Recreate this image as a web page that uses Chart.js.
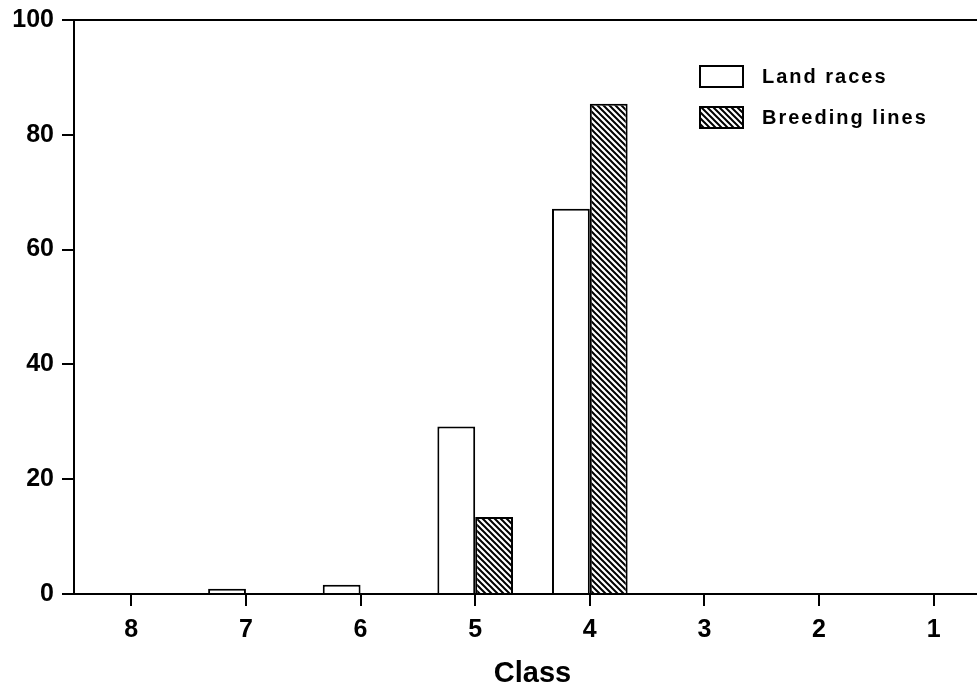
<!DOCTYPE html>
<html>
<head>
<meta charset="utf-8">
<script src="https://cdn.jsdelivr.net/npm/chart.js@4.4.1/dist/chart.umd.min.js"></script>
<style>
html,body{margin:0;padding:0;background:#fff;overflow:hidden;}
#wrap{width:977px;height:686px;overflow:hidden;position:relative;}
canvas{display:block;}
</style>
</head>
<body>
<div id="wrap"><canvas id="c" width="1000" height="686"></canvas></div>
<script>
// Data
const categories = ['8', '7', '6', '5', '4', '3', '2', '1'];
const landRaces = [0, 0.9, 1.6, 29.2, 67.1, 0, 0, 0];
const breedingLines = [0, 0, 0, 13.4, 85.4, 0, 0, 0];
const seriesNames = ['Land races', 'Breeding lines'];
const yTicks = [0, 20, 40, 60, 80, 100];
const xTitle = 'Class';

function hatch() {
  const s = 6;
  const p = document.createElement('canvas');
  p.width = s; p.height = s;
  const g = p.getContext('2d');
  g.fillStyle = '#fff';
  g.fillRect(0, 0, s, s);
  g.strokeStyle = '#000';
  g.lineWidth = 2;
  g.beginPath();
  g.moveTo(0, 0); g.lineTo(s, s);
  g.moveTo(-s, 0); g.lineTo(s, 2 * s);
  g.moveTo(0, -s); g.lineTo(2 * s, s);
  g.stroke();
  return g.createPattern(p, 'repeat');
}
const hatchFill = hatch();

const FONT = '"Liberation Sans", Arial, sans-serif';

const legendPlugin = {
  id: 'boxLegend',
  afterDraw(chart) {
    const ctx = chart.ctx;
    const x0 = 700, y0 = 66, bw = 43, bh = 21, gap = 41;
    ctx.save();
    chart.data.datasets.forEach((ds, i) => {
      const y = y0 + i * gap;
      ctx.fillStyle = ds.backgroundColor;
      ctx.fillRect(x0, y, bw, bh);
      ctx.strokeStyle = '#000';
      ctx.lineWidth = 2;
      ctx.strokeRect(x0, y, bw, bh);
      ctx.fillStyle = '#000';
      ctx.font = 'bold 20px ' + FONT;
      try { ctx.letterSpacing = '2px'; } catch (e) {}
      ctx.textBaseline = 'middle';
      ctx.textAlign = 'left';
      ctx.fillText(ds.label, x0 + 62, y + bh / 2 + 1);
    });
    ctx.restore();
  }
};

new Chart(document.getElementById('c'), {
  type: 'bar',
  data: {
    labels: categories,
    datasets: [
      { label: seriesNames[0], data: landRaces, backgroundColor: '#ffffff', borderColor: '#000', borderWidth: 2 },
      { label: seriesNames[1], data: breedingLines, backgroundColor: hatchFill, borderColor: '#000', borderWidth: 2 }
    ]
  },
  options: {
    responsive: false,
    animation: false,
    layout: { padding: { top: 20, right: 9, left: 0, bottom: 0 } },
    datasets: { bar: { categoryPercentage: 0.66, barPercentage: 1.0 } },
    plugins: { legend: { display: false }, tooltip: { enabled: false } },
    scales: {
      x: {
        grid: { offset: false, drawOnChartArea: false, color: '#000', tickColor: '#000', tickLength: 12, lineWidth: 2 },
        border: { display: true, color: '#000', width: 2 },
        ticks: { color: '#000', font: { family: FONT, size: 25, weight: 'bold' }, padding: 9, maxRotation: 0 },
        title: { display: true, text: xTitle, color: '#000', font: { family: FONT, size: 29, weight: 'bold', lineHeight: 0.85 }, padding: { top: 0, bottom: 0 } },
        afterFit(scale) { scale.height = 92; }
      },
      y: {
        min: 0, max: 100,
        afterBuildTicks(scale) { scale.ticks = yTicks.map(v => ({ value: v })); },
        grid: {
          color: (c) => (c.tick && c.tick.value === 100 ? '#000' : 'rgba(0,0,0,0)'),
          tickColor: '#000', tickLength: 12, lineWidth: 2
        },
        border: { display: true, color: '#000', width: 2 },
        ticks: { color: '#000', font: { family: FONT, size: 25, weight: 'bold' }, padding: 8 },
        afterFit(scale) { scale.width = 74; scale.paddingTop = 0; scale.paddingBottom = 0; }
      }
    }
  },
  plugins: [legendPlugin]
});
</script>
</body>
</html>
